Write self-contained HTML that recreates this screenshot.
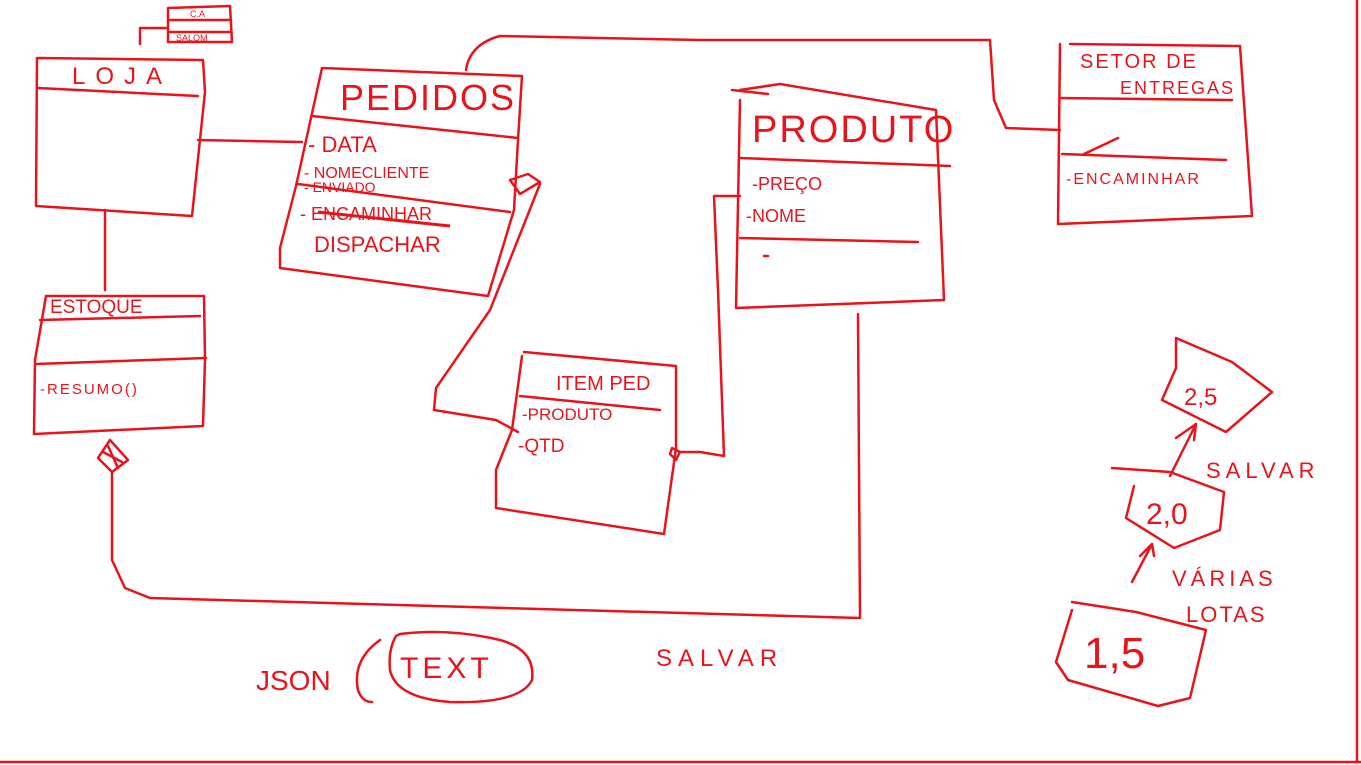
<!DOCTYPE html>
<html><head><meta charset="utf-8"><style>
html,body{margin:0;padding:0;background:#fff;}
svg{display:block}
text{font-family:"Liberation Sans",sans-serif;fill:#e8141c;}
</style></head><body>
<svg width="1361" height="765" viewBox="0 0 1361 765" xmlns="http://www.w3.org/2000/svg">
<g fill="none" stroke="#e8141c" stroke-width="2.5" stroke-linecap="round" stroke-linejoin="round">
<!-- frame -->
<path d="M0 762 L1361 762"/>
<path d="M1357 0 L1357 762"/>
<!-- small top box -->
<path d="M168 8 L230 6 L232 42 L168 42 Z M168 20 L230 20 M168 32 L230 32 M166 28 L140 28 L140 44"/>
<!-- LOJA -->
<path d="M38 58 L203 60 L205 92 L192 216 L36 206 L37 58"/>
<path d="M38 88 L198 96"/>
<path d="M198 140 L302 142"/>
<path d="M105 210 L105 290"/>
<!-- ESTOQUE -->
<path d="M46 296 L204 296 L205 360 L203 426 L34 434 L35 360 Z"/>
<path d="M40 320 L200 316"/>
<path d="M36 364 L206 358"/>
<!-- diamond & long line -->
<path d="M98 458 L110 440 L128 460 L112 472 Z"/>
<path d="M103 452 L122 462 M108 446 L118 468"/>
<path d="M112 472 L112 560 L125 588 L150 598 L860 618 L858 314"/>
<!-- PEDIDOS -->
<path d="M322 68 L522 76 L518 140 L514 210 L488 296 L280 268 L280 248 L296 186 L322 68"/>
<path d="M312 116 L518 138"/>
<path d="M298 184 L510 212"/>
<!-- hollow diamond -->
<path d="M510 180 L528 174 L540 182 L520 194 Z"/>
<path d="M540 184 L490 310 L436 388 L434 410 L496 420 L518 432"/>
<!-- top connector -->
<path d="M466 70 Q470 44 500 36 L700 40 L990 40 L994 100 L1006 128 L1060 130"/>
<!-- PRODUTO -->
<path d="M740 90 L780 84 L936 110 L944 300 L736 308 L740 100"/>
<path d="M732 90 L768 94"/>
<path d="M740 158 L950 166"/>
<path d="M740 238 L918 242"/>
<path d="M764 256 L768 256"/>
<path d="M740 196 L714 196 L718 290 L724 456 L700 452 L680 452"/>
<!-- ITEM PED -->
<path d="M524 352 L676 366 L676 448 L664 534 L496 508 L496 470 L512 430 L522 356"/>
<path d="M520 396 L660 410"/>
<path d="M672 448 L680 452 L676 460 L670 454 Z"/>
<!-- SETOR DE ENTREGAS -->
<path d="M1070 44 L1240 46 L1252 216 L1058 224 L1060 44"/>
<path d="M1060 98 L1232 100"/>
<path d="M1062 154 L1226 160"/>
<path d="M1084 154 L1118 138"/>
<!-- JSON TEXT -->
<path d="M380 640 Q352 660 358 690 Q362 702 372 702"/>
<path d="M396 636 Q388 650 390 670 Q396 698 450 702 Q520 704 532 680 Q536 650 500 640 Q450 628 400 634 Z"/>
<!-- version boxes -->
<path d="M1176 338 L1232 362 L1272 392 L1226 432 L1162 400 L1176 368 Z"/>
<path d="M1196 424 L1176 438 M1196 424 L1194 440 M1196 424 L1170 476"/>
<path d="M1112 468 L1170 472 L1224 492 L1220 530 L1174 548 L1126 518 L1134 486"/>
<path d="M1152 544 L1140 556 M1152 544 L1154 556 M1152 544 L1132 582"/>
<path d="M1072 602 L1136 612 L1206 630 L1190 698 L1158 706 L1068 680 L1056 662 L1072 610"/>
</g>
<g font-size="22" fill="#e8141c">
<text x="190" y="17" font-size="9">C.A</text>
<text x="176" y="41" font-size="9">SALOM</text>
<text x="72" y="84" font-size="24" letter-spacing="10">LOJA</text>
<text x="340" y="110" font-size="36" letter-spacing="2">PEDIDOS</text>
<text x="308" y="152" font-size="22">- DATA</text>
<text x="304" y="178" font-size="16">- NOMECLIENTE</text>
<text x="304" y="192" font-size="14">- ENVIADO</text>
<text x="300" y="220" font-size="18">- ENCAMINHAR</text>
<path d="M318 212 L450 226" stroke="#e8141c" stroke-width="3"/>
<text x="314" y="252" font-size="22">DISPACHAR</text>
<text x="50" y="313" font-size="19">ESTOQUE</text>
<text x="40" y="394" font-size="15" letter-spacing="2">-RESUMO()</text>
<text x="752" y="142" font-size="38" letter-spacing="2">PRODUTO</text>
<text x="752" y="190" font-size="18">-PREÇO</text>
<text x="746" y="222" font-size="18">-NOME</text>
<text x="556" y="390" font-size="20">ITEM PED</text>
<text x="522" y="420" font-size="17">-PRODUTO</text>
<text x="518" y="452" font-size="19">-QTD</text>
<text x="1080" y="68" font-size="20" letter-spacing="2">SETOR DE</text>
<text x="1120" y="94" font-size="18" letter-spacing="2">ENTREGAS</text>
<text x="1066" y="184" font-size="16" letter-spacing="2">-ENCAMINHAR</text>
<text x="256" y="690" font-size="28">JSON</text>
<text x="400" y="678" font-size="30" letter-spacing="4">TEXT</text>
<text x="656" y="666" font-size="24" letter-spacing="6">SALVAR</text>
<text x="1184" y="405" font-size="24">2,5</text>
<text x="1206" y="478" font-size="22" letter-spacing="5">SALVAR</text>
<text x="1146" y="524" font-size="30">2,0</text>
<text x="1172" y="586" font-size="22" letter-spacing="4">VÁRIAS</text>
<text x="1186" y="622" font-size="22" letter-spacing="2">LOTAS</text>
<text x="1084" y="668" font-size="44">1,5</text>
</g>
</svg>
</body></html>
